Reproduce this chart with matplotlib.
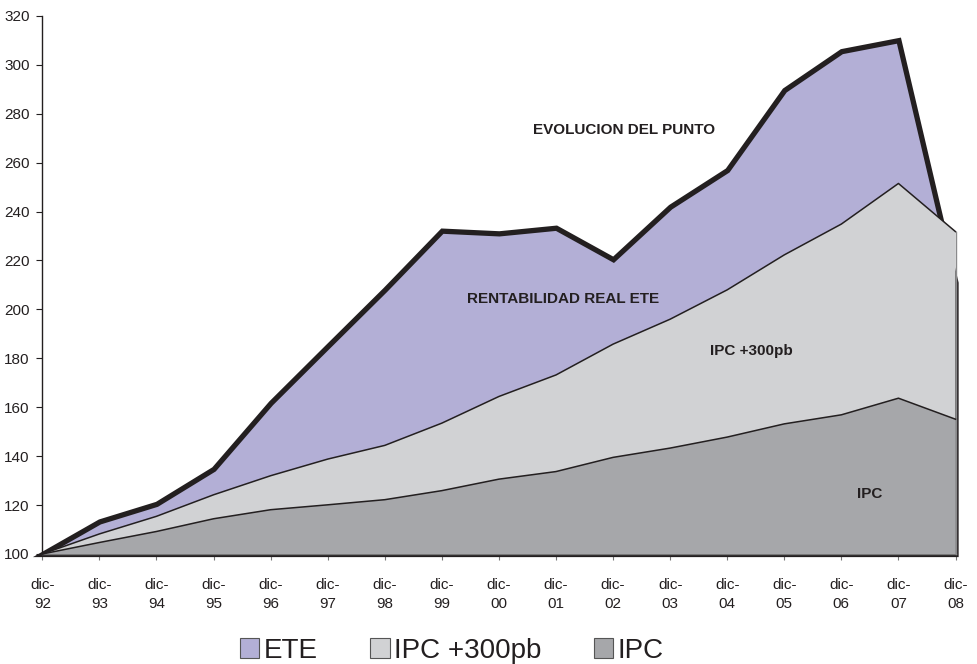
import matplotlib
matplotlib.use("Agg")
import matplotlib.pyplot as plt
from matplotlib.patches import Patch

plt.rcParams['font.family'] = ['Liberation Sans', 'DejaVu Sans']

categories = ["dic-\n92", "dic-\n93", "dic-\n94", "dic-\n95", "dic-\n96", "dic-\n97",
              "dic-\n98", "dic-\n99", "dic-\n00", "dic-\n01", "dic-\n02", "dic-\n03",
              "dic-\n04", "dic-\n05", "dic-\n06", "dic-\n07", "dic-\n08"]
ete = [100, 113.3, 120.5, 134.8, 161.8, 185.0, 208.1, 232.2, 231.1, 233.4, 220.5,
       242.0, 257.0, 289.7, 305.6, 310.1, 211.0]
ipc300 = [100, 108.2, 115.4, 124.2, 132.0, 138.8, 144.4, 153.5, 164.4, 173.2, 185.8,
          196.0, 208.0, 222.3, 234.9, 251.5, 231.8]
ipc = [100, 104.7, 109.2, 114.4, 118.1, 120.1, 122.2, 125.9, 130.6, 133.7, 139.5,
       143.3, 147.8, 153.2, 156.9, 163.7, 155.1]
yticks = [100, 120, 140, 160, 180, 200, 220, 240, 260, 280, 300, 320]
series_names = ["ETE", "IPC +300pb", "IPC"]

c_ete = "#B3AFD6"
c_300 = "#D1D2D4"
c_ipc = "#A6A7AA"
dark = "#231F20"

fig = plt.figure(figsize=(9.78, 6.64), dpi=100)
ax = fig.add_axes([0.0433, 0.1657, 0.9337, 0.8103])
x = list(range(len(categories)))
base = yticks[0]

ax.fill_between(x, ete, base, facecolor=c_ete, edgecolor=dark, linewidth=3.8,
                joinstyle='miter', clip_on=False, zorder=2)
ax.fill_between(x, ipc300, base, facecolor=c_300, edgecolor='none', clip_on=False, zorder=3)
ax.plot(x, ipc300, color=dark, linewidth=1.1, zorder=4, clip_on=False)
ax.plot([x[-1], x[-1]], [base, ipc300[-1]], color="#8a8a8c", linewidth=1.0, zorder=4, clip_on=False)
ax.fill_between(x, ipc, base, facecolor=c_ipc, edgecolor='none', clip_on=False, zorder=5)
ax.plot(x, ipc, color=dark, linewidth=1.1, zorder=6, clip_on=False)

ax.set_xlim(0, len(categories) - 1)
ax.set_ylim(yticks[0], yticks[-1])
ax.set_yticks(yticks)
ax.set_xticks(x)
ax.set_xticklabels(categories, linespacing=1.45)

for s in ['top', 'right']:
    ax.spines[s].set_visible(False)
ax.spines['left'].set_color(dark)
ax.spines['left'].set_linewidth(1.0)
ax.spines['bottom'].set_color("#777777")
ax.spines['bottom'].set_linewidth(1.0)
ax.tick_params(axis='y', direction='out', length=4, width=0.8, color=dark,
               labelsize=11, labelcolor=dark, pad=5)
ax.tick_params(axis='x', direction='out', length=4, width=0.8, color="#777777",
               labelsize=11, labelcolor=dark, pad=13)

ann_kw = dict(fontsize=11, fontweight='bold', color=dark, ha='center', va='center', zorder=10)
ax.text(10.2, 273.5, "EVOLUCION DEL PUNTO", **ann_kw)
ax.text(9.12, 204.3, "RENTABILIDAD REAL ETE", **ann_kw)
ax.text(12.42, 183.1, "IPC +300pb", **ann_kw)
ax.text(14.5, 124.6, "IPC", **ann_kw)

handles = [Patch(facecolor=c, edgecolor="#555555", linewidth=0.8) for c in (c_ete, c_300, c_ipc)]
fig.legend(handles, series_names, loc='center', bbox_to_anchor=(0.462, 0.02), ncol=3,
           frameon=False, fontsize=20, handlelength=0.7, handleheight=0.7,
           handletextpad=0.15, columnspacing=1.9, labelcolor=dark)

fig.savefig("out.png", dpi=100)
